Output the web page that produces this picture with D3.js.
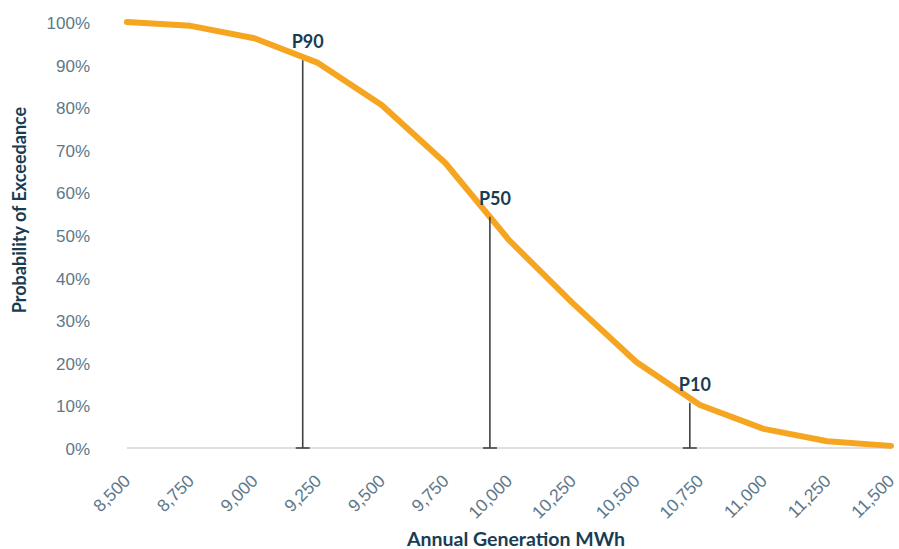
<!DOCTYPE html>
<html>
<head>
<meta charset="utf-8">
<script src="https://cdn.jsdelivr.net/npm/d3@7/dist/d3.min.js"></script>
<style>
  html, body { margin: 0; padding: 0; background: #fff; }
  svg { display: block; font-family: Lato, "Open Sans", sans-serif; }
</style>
</head>
<body>
<svg id="chart" width="899" height="549"></svg>
<script>
// Annual generation (MWh) and probability of exceedance (%)
const generation = [8500, 8750, 9000, 9250, 9500, 9750, 10000, 10250, 10500, 10750, 11000, 11250, 11500];
const exceedance = [100, 99.1, 96.2, 90.4, 80.5, 66.9, 48.8, 34.0, 20.2, 10.1, 4.5, 1.6, 0.5];

// Marked percentiles on the curve
const pLabels = ["P90", "P50", "P10"];
const pGeneration = [9190, 9925, 10710];
const pExceedance = [91.0, 54.3, 10.6];

const xTicks = generation;
const yTicks = [0, 10, 20, 30, 40, 50, 60, 70, 80, 90, 100];

const svg = d3.select("#chart");
const x = d3.scaleLinear().domain([8500, 11500]).range([127, 891]);
const y = d3.scaleLinear().domain([0, 100]).range([448, 22]);

const tickColor = "#5d788a";
const titleColor = "#183d52";

// Baseline
svg.append("line")
  .attr("x1", x(8500)).attr("x2", x(11500))
  .attr("y1", y(0)).attr("y2", y(0))
  .attr("stroke", "#d4d4d4").attr("stroke-width", 1.3);

// Y axis labels
const yAxis = d3.axisLeft(y).tickValues(yTicks).tickFormat(d => d + "%").tickSize(0).tickPadding(0);
const yg = svg.append("g").attr("transform", "translate(90,1)").call(yAxis);
yg.select(".domain").remove();
yg.selectAll("text")
  .attr("fill", tickColor)
  .style("font-size", "17px")
  .style("font-weight", 300);

// X axis labels, rotated
const xAxis = d3.axisBottom(x).tickValues(xTicks).tickFormat(d3.format(",")).tickSize(0).tickPadding(0);
const xg = svg.append("g").attr("transform", `translate(0,${y(0)})`).call(xAxis);
xg.select(".domain").remove();
xg.selectAll("text")
  .attr("fill", tickColor)
  .style("font-size", "17.5px")
  .style("font-weight", 300)
  .attr("text-anchor", "end")
  .attr("dy", null)
  .attr("y", 0)
  .attr("transform", "translate(4,34) rotate(-45)");

// Exceedance curve
const line = d3.line().x((d, i) => x(generation[i])).y(d => y(d));
svg.append("path")
  .datum(exceedance)
  .attr("d", line)
  .attr("fill", "none")
  .attr("stroke", "#f6a521")
  .attr("stroke-width", 6)
  .attr("stroke-linecap", "round")
  .attr("stroke-linejoin", "round");

// Percentile drop lines with end caps
const pg = svg.append("g");
pLabels.forEach((lab, i) => {
  const px = x(pGeneration[i]);
  const py = y(pExceedance[i]);
  pg.append("line")
    .attr("x1", px).attr("x2", px)
    .attr("y1", py).attr("y2", y(0))
    .attr("stroke", "#414148").attr("stroke-width", 1.6);
  pg.append("line")
    .attr("x1", px - 7).attr("x2", px + 7)
    .attr("y1", y(0)).attr("y2", y(0))
    .attr("stroke", "#414148").attr("stroke-width", 1.6);
  pg.append("text")
    .attr("x", px + 5).attr("y", py - 12)
    .attr("text-anchor", "middle")
    .attr("fill", titleColor)
    .style("font-size", "18px")
    .style("font-weight", 700)
    .text(lab);
});

// Axis titles
svg.append("text")
  .attr("x", 516).attr("y", 546)
  .attr("text-anchor", "middle")
  .attr("fill", titleColor)
  .style("font-size", "19.5px")
  .style("font-weight", 700)
  .text("Annual Generation MWh");

svg.append("text")
  .attr("transform", "translate(26,210) rotate(-90)")
  .attr("text-anchor", "middle")
  .attr("fill", titleColor)
  .style("font-size", "18px")
  .style("font-weight", 700)
  .text("Probability of Exceedance");
</script>
</body>
</html>
